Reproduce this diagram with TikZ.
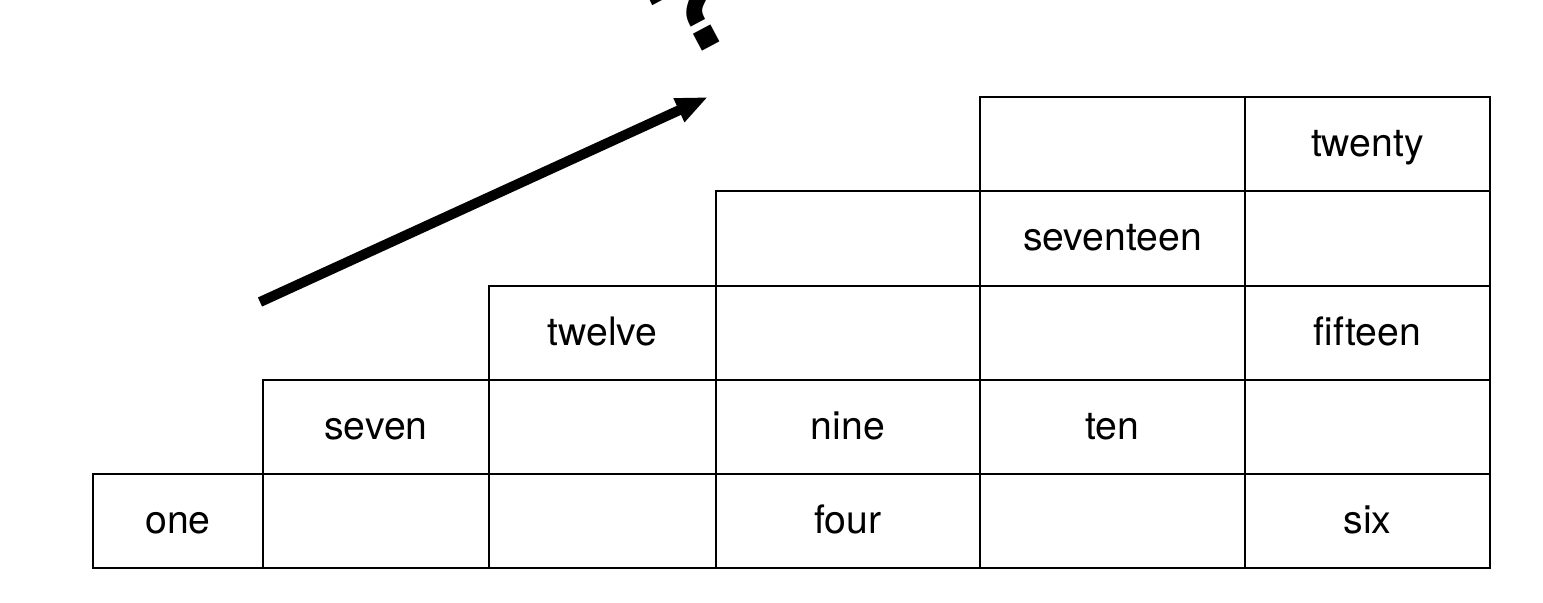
\documentclass[tikz,border=0pt]{standalone}
\usepackage{fontspec}
\setmainfont{TeX Gyre Heros}
\usetikzlibrary{arrows.meta}
\begin{document}
\begin{tikzpicture}[x=0.5pt,y=-0.5pt,
  cell/.style={draw=black,line width=0.9pt,inner sep=0pt,minimum height=47.2pt,
    text height=12pt,text depth=0pt,font=\fontsize{19.6}{24}\selectfont},
  w1/.style={cell,minimum width=85pt},
  w2/.style={cell,minimum width=113pt},
  w3/.style={cell,minimum width=113.5pt},
  w4/.style={cell,minimum width=132pt},
  w5/.style={cell,minimum width=132.5pt},
  w6/.style={cell,minimum width=122.5pt},
  bigarrow/.style={line width=5pt,-{Triangle[length=16pt,width=12pt]}}]
\useasboundingbox (0,0) rectangle (1543,602);
\clip (0,0) rectangle (1543,602);
% row 1
\node[w1] (a1) at (178,521) {one};
\node[w2] (a2) at (376,521) {};
\node[w3] (a3) at (602.5,521) {};
\node[w4] (a4) at (848,521) {four};
\node[w5] (a5) at (1112.5,521) {};
\node[w6] (a6) at (1367.5,521) {six};
% row 2
\node[w2] (b2) at (376,427) {seven};
\node[w3] (b3) at (602.5,427) {};
\node[w4] (b4) at (848,427) {nine};
\node[w5] (b5) at (1112.5,427) {ten};
\node[w6] (b6) at (1367.5,427) {};
% row 3
\node[w3] (c3) at (602.5,333) {twelve};
\node[w4] (c4) at (848,333) {};
\node[w5] (c5) at (1112.5,333) {};
\node[w6] (c6) at (1367.5,333) {fifteen};
% row 4
\node[w4] (d4) at (848,238.5) {};
\node[w5] (d5) at (1112.5,238.5) {seventeen};
\node[w6] (d6) at (1367.5,238.5) {};
% row 5
\node[w5] (e5) at (1112.5,144) {};
\node[w6] (e6) at (1367.5,144) {twenty};
% arrow
\coordinate (s) at (260,302);
\coordinate (t) at (708,97);
\draw[bigarrow] (s) -- (t);
% question mark (its top runs off the picture, as in the reference)
\node[anchor=south,inner sep=0pt,rotate=28,font=\fontsize{66}{70}\bfseries\selectfont] (q) at (711,47) {?};
\end{tikzpicture}
\end{document}
